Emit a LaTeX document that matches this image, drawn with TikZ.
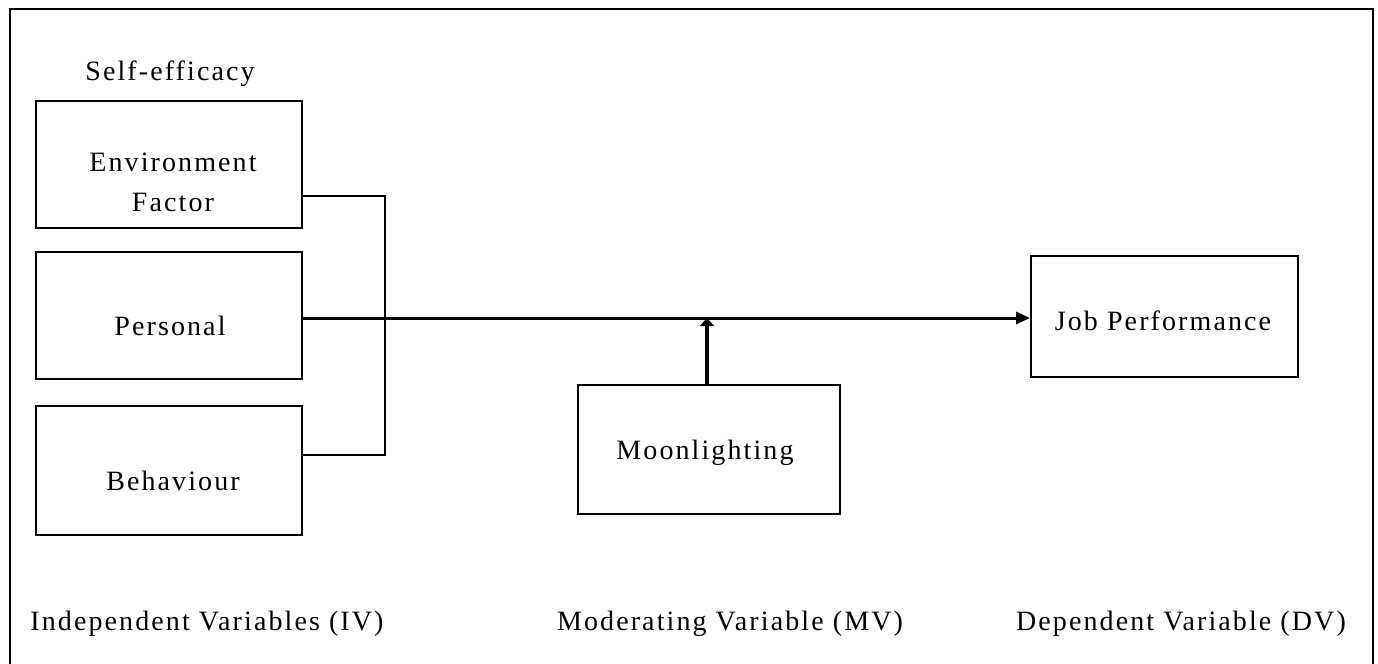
\documentclass[tikz,border=0pt]{standalone}
\usepackage{fontspec}
\setmainfont[LetterSpace=7.5]{Liberation Serif}
\usetikzlibrary{arrows.meta}
\begin{document}
\begin{tikzpicture}[x=0.5pt,y=-0.5pt,
  box/.style={draw,line width=1pt},
  lbl/.style={font=\fontsize{14}{20}\selectfont,inner sep=0pt},
  conn/.style={line width=0.9pt},
  mainarrow/.style={line width=1.5pt,-{Triangle[length=7pt,width=6pt]}},
  modarrow/.style={line width=2pt,-{Triangle[length=4pt,width=7pt]}}]
\useasboundingbox (0,0) rectangle (1378,664);
\draw[line width=1.3pt] (10,700) -- (10,9) -- (1373,9) -- (1373,700);
% IV boxes
\node[box,minimum width=133pt,minimum height=63.5pt] (env) at (169,164.5) {};
\node[box,minimum width=133pt,minimum height=63.5pt] (pers) at (169,315.5) {};
\node[box,minimum width=133pt,minimum height=64.5pt] (beh) at (169,470.5) {};
\node[lbl,align=center] (envt) at (173,182) {Environment\\[0pt]Factor};
\node[lbl] (perst) at (170,326) {Personal};
\node[lbl] (beht) at (173,481) {Behaviour};
\node[lbl] (self) at (170,74) {Self-efficacy};
% MV and DV boxes
\node[box,minimum width=131pt,minimum height=64.5pt] (moon) at (709,449.5) {};
\node[lbl] (moont) at (705,453) {Moonlighting};
\node[box,minimum width=133.5pt,minimum height=60.5pt] (job) at (1164.5,316.5) {};
\node[lbl] (jobt) at (1163,321) {Job Performance};
% bracket
\coordinate (bt) at (385,196);
\coordinate (bb) at (385,455);
\coordinate (envR) at (302,196);
\coordinate (behR) at (302,455);
\draw[conn] (envR) -- (bt) -- (bb) -- (behR);
% main arrow
\coordinate (mid) at (707,318);
\draw[mainarrow] (pers.east |- mid) -- (job.west |- mid);
\draw[modarrow] (moon.north -| mid) -- (mid);
% bottom labels
\node[lbl] (iv) at (207,624) {Independent Variables (IV)};
\node[lbl] (mv) at (730,624) {Moderating Variable (MV)};
\node[lbl] (dv) at (1181,624) {Dependent Variable (DV)};
\end{tikzpicture}
\end{document}
